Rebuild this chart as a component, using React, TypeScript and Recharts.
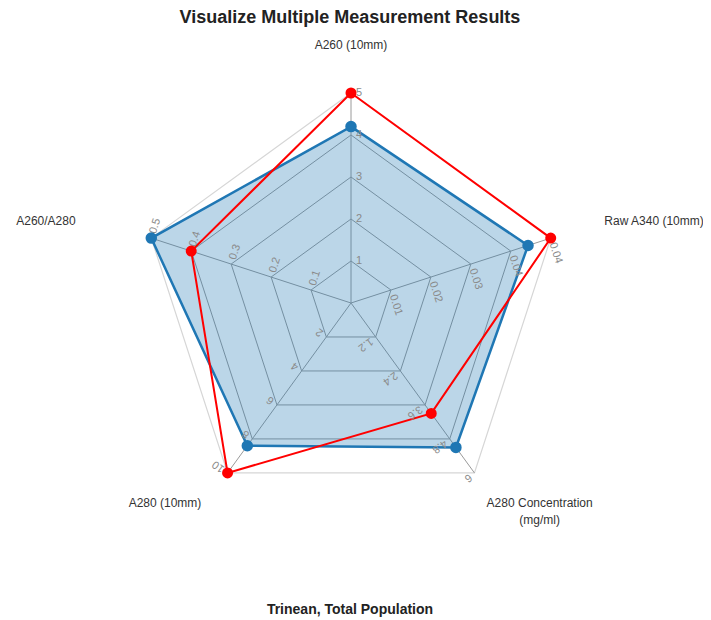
import { RadarChart, Radar, PolarGrid, PolarAngleAxis, PolarRadiusAxis } from "recharts"

// axes go clockwise from the top
const categories = ["A260 (10mm)", "Raw A340 (10mm)", "A280 Concentration\n(mg/ml)", "A280 (10mm)", "A260/A280"]
const axisMax = [5, 0.044, 6, 10, 0.5]
const axisTicks = [
  [1, 2, 3, 4, 5],
  [0.0088, 0.0176, 0.0264, 0.0352, 0.044],
  [1.2, 2.4, 3.6, 4.8, 6],
  [2, 4, 6, 8, 10],
  [0.1, 0.2, 0.3, 0.4, 0.5],
]
const sampleBlue = [4.2, 0.039, 5.1, 8.4, 0.5]
const sampleRed = [5, 0.044, 3.9, 10, 0.4]

// every axis has its own range, so values are plotted as a share of the axis max
const data = categories.map((axis, i) => ({
  axis,
  blue: sampleBlue[i] / axisMax[i],
  red: sampleRed[i] / axisMax[i],
}))

const font = '"Liberation Sans", Arial, sans-serif'

// nudges for the outer labels, by axis index
const labelPos = [
  { dx: 0, dy: 4, anchor: "middle" },
  { dx: 8, dy: 2, anchor: "start" },
  { dx: 37, dy: -5, anchor: "middle" },
  { dx: 2, dy: -5, anchor: "end" },
  { dx: -30, dy: 2, anchor: "end" },
]

const fmt = (v: number) => String(Math.round(v * 100) / 100)

function AngleTick(props: any) {
  const { x, y, payload, index } = props
  const p = labelPos[index] || labelPos[0]
  const lines = String(payload.value).split("\n")
  return (
    <text x={x + p.dx} y={y + p.dy} textAnchor={p.anchor} fontSize={12} fill="#333" fontFamily={font}>
      {lines.map((l, i) => (
        <tspan key={i} x={x + p.dx} dy={i === 0 ? 0 : 17}>
          {l}
        </tspan>
      ))}
    </text>
  )
}

function RadiusTick(props: any) {
  const { x, y, payload, transform, max } = props
  return (
    <text x={x} y={y} dx={5} dy={3} transform={transform} fontSize={11} fill="#8a8a8a" fontFamily={font}>
      {fmt(payload.value * max)}
    </text>
  )
}

export default function App() {
  return (
    <div style={{ position: "relative", width: 711, height: 620, fontFamily: font }}>
      <style>{"body{margin:0}"}</style>
      <div style={{ position: "absolute", left: 8, top: 8, width: 695, height: 604 }}>
        <div
          style={{
            position: "absolute",
            top: -1,
            left: 0,
            width: 684,
            textAlign: "center",
            fontSize: 18,
            lineHeight: "20px",
            fontWeight: "bold",
            color: "#222",
          }}
        >
          Visualize Multiple Measurement Results
        </div>
        <RadarChart width={695} height={590} data={data} cx={343} cy={295} outerRadius={210} margin={{ top: 0, right: 0, bottom: 0, left: 0 }}>
          <PolarGrid radiusAxisId="outer" gridType="polygon" stroke="#d6d6d6" strokeWidth={1.2} radialLines={false} />
          <PolarGrid radiusAxisId="norm" gridType="polygon" stroke="#9a9a9a" strokeWidth={1} radialLines={true} />
          <PolarAngleAxis dataKey="axis" tick={<AngleTick />} tickLine={false} axisLine={false} tickSize={48} />
          <PolarRadiusAxis radiusAxisId="norm" type="number" domain={[0, 1]} ticks={[0.2, 0.4, 0.6, 0.8]} allowDataOverflow tick={false} axisLine={false} tickLine={false} />
          <PolarRadiusAxis radiusAxisId="outer" type="number" domain={[0, 1]} ticks={[1]} allowDataOverflow tick={false} axisLine={false} tickLine={false} />
          {categories.map((c, i) => (
            <PolarRadiusAxis
              key={c}
              radiusAxisId={`ax${i}`}
              angle={(90 - 72 * i + 360) % 360}
              type="number"
              domain={[0, 1]}
              ticks={axisTicks[i].map((t) => t / axisMax[i])}
              allowDataOverflow
              axisLine={false}
              tickLine={false}
              tick={<RadiusTick max={axisMax[i]} />}
            />
          ))}
          <Radar
            radiusAxisId="norm"
            dataKey="blue"
            stroke="#1f77b4"
            strokeWidth={2.5}
            fill="#1f77b4"
            fillOpacity={0.3}
            dot={{ r: 4.5, fill: "#1f77b4", stroke: "#1f77b4", fillOpacity: 1 }}
            isAnimationActive={false}
          />
          <Radar
            radiusAxisId="norm"
            dataKey="red"
            stroke="#ff0000"
            strokeWidth={2}
            fill="none"
            fillOpacity={0}
            dot={{ r: 4.5, fill: "#ff0000", stroke: "#ff0000", fillOpacity: 1 }}
            isAnimationActive={false}
          />
        </RadarChart>
        <div
          style={{
            position: "absolute",
            top: 593,
            left: 0,
            width: 684,
            textAlign: "center",
            fontSize: 14,
            lineHeight: "16px",
            fontWeight: "bold",
            color: "#222",
          }}
        >
          Trinean, Total Population
        </div>
      </div>
    </div>
  )
}
